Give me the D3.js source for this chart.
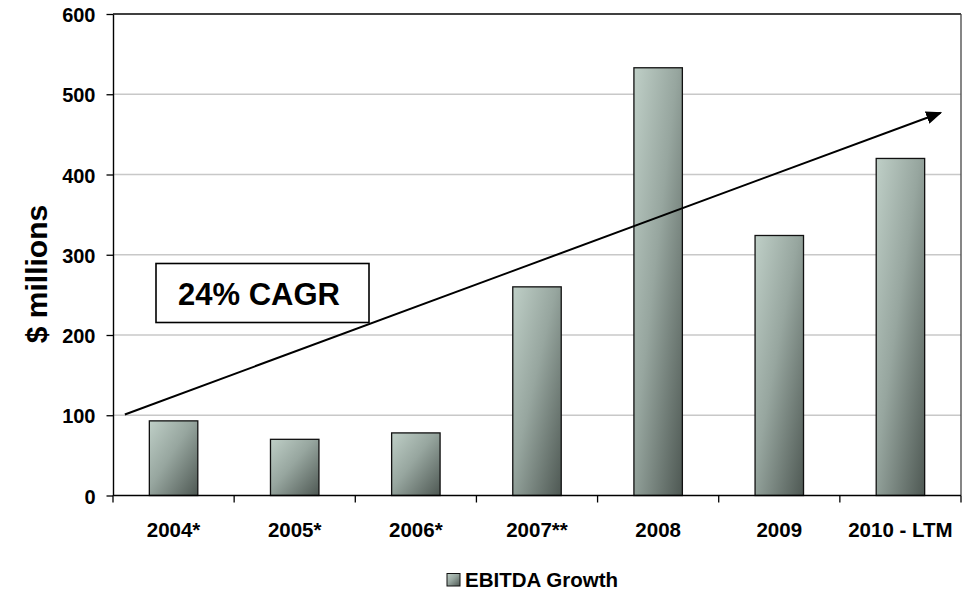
<!DOCTYPE html>
<html>
<head>
<meta charset="utf-8">
<script src="https://cdn.jsdelivr.net/npm/d3@7"></script>
<style>
  html, body { margin: 0; padding: 0; background: #fff; }
  svg { display: block; font-family: "Liberation Sans", Arial, Helvetica, sans-serif; }
</style>
</head>
<body>
<svg id="chart" width="974" height="592"></svg>
<script>
// EBITDA by year, $ millions
const categories = ["2004*", "2005*", "2006*", "2007**", "2008", "2009", "2010 - LTM"];
const ebitda = [93, 70, 78, 260, 533, 324, 420];
const yTicks = [0, 100, 200, 300, 400, 500, 600];
const seriesName = "EBITDA Growth";
const cagrLabel = "24% CAGR";
// Trend arrow endpoints: [fraction of plot width, value]
const trendStart = [0.014, 101];
const trendEnd = [0.976, 477];

const svg = d3.select("#chart");
const margin = { left: 113, right: 13, top: 14, bottom: 96.5 };
const W = 974, H = 592;
const iw = W - margin.left - margin.right;
const ih = H - margin.top - margin.bottom;

const x = d3.scaleBand().domain(categories).range([0, iw]).paddingInner(0.6).paddingOuter(0.3);
const xb = d3.scaleBand().domain(categories).range([0, iw]);
const y = d3.scaleLinear().domain([0, 600]).range([ih, 0]);

const defs = svg.append("defs");
const grad = defs.append("linearGradient").attr("id", "barGrad")
  .attr("x1", 0).attr("y1", 0).attr("x2", 1).attr("y2", 1);
grad.append("stop").attr("offset", "0%").attr("stop-color", "#bfcfc7");
grad.append("stop").attr("offset", "45%").attr("stop-color", "#97a69f");
grad.append("stop").attr("offset", "100%").attr("stop-color", "#4e5853");

const arrowM = defs.append("marker").attr("id", "arrowHead")
  .attr("viewBox", "0 0 10 10").attr("refX", 9).attr("refY", 5)
  .attr("markerWidth", 16).attr("markerHeight", 13).attr("markerUnits", "userSpaceOnUse")
  .attr("orient", "auto").attr("preserveAspectRatio", "none");
arrowM.append("path").attr("d", "M0,0 L10,5 L0,10 Z").attr("fill", "#000");

const g = svg.append("g").attr("transform", `translate(${margin.left},${margin.top})`);

// gridlines
g.append("g").selectAll("line").data(yTicks.filter(t => t > 0 && t < 600)).join("line")
  .attr("x1", 0).attr("x2", iw)
  .attr("y1", d => y(d)).attr("y2", d => y(d))
  .attr("stroke", "#c8c8c8").attr("stroke-width", 1.6);

// plot frame (top and right)
g.append("line").attr("x1", 0).attr("x2", iw).attr("y1", y(600)).attr("y2", y(600))
  .attr("stroke", "#000").attr("stroke-width", 1.3);
g.append("line").attr("x1", iw).attr("x2", iw).attr("y1", y(600)).attr("y2", y(0))
  .attr("stroke", "#444").attr("stroke-width", 1.3);

// bars
g.append("g").selectAll("rect").data(categories).join("rect")
  .attr("x", d => x(d))
  .attr("y", (d, i) => y(ebitda[i]))
  .attr("width", x.bandwidth())
  .attr("height", (d, i) => y(0) - y(ebitda[i]))
  .attr("fill", "url(#barGrad)")
  .attr("stroke", "#111").attr("stroke-width", 1.3);

// y axis
const yAxis = g.append("g").call(d3.axisLeft(y).tickValues(yTicks).tickSize(6.5).tickPadding(11).tickSizeOuter(0));
yAxis.select(".domain").attr("stroke", "#000").attr("stroke-width", 1.4);
yAxis.selectAll(".tick line").attr("stroke", "#000").attr("stroke-width", 1.3);
yAxis.selectAll("text").attr("font-size", 20).attr("font-weight", "bold").attr("fill", "#000")
  .attr("font-family", "Liberation Sans, Arial, sans-serif").attr("dy", "0.38em");

// x axis: baseline plus ticks at category boundaries
const xAxisG = g.append("g").attr("transform", `translate(0,${ih})`);
xAxisG.append("line").attr("x1", 0).attr("x2", iw).attr("stroke", "#000").attr("stroke-width", 1.4);
const bounds = categories.map(c => xb(c)).concat([iw]);
xAxisG.selectAll("line.tk").data(bounds).join("line").attr("class", "tk")
  .attr("x1", d => d).attr("x2", d => d).attr("y1", 0).attr("y2", 7)
  .attr("stroke", "#000").attr("stroke-width", 1.3);
xAxisG.selectAll("text").data(categories).join("text")
  .attr("x", d => xb(d) + xb.bandwidth() / 2).attr("y", 41.5)
  .attr("text-anchor", "middle").attr("font-size", 20.5).attr("font-weight", "bold")
  .text(d => d);

// trend arrow
g.append("line")
  .attr("x1", trendStart[0] * iw).attr("y1", y(trendStart[1]))
  .attr("x2", trendEnd[0] * iw).attr("y2", y(trendEnd[1]))
  .attr("stroke", "#000").attr("stroke-width", 2)
  .attr("marker-end", "url(#arrowHead)");

// CAGR box
const boxG = svg.append("g");
boxG.append("rect").attr("x", 156).attr("y", 263.5).attr("width", 213).attr("height", 59)
  .attr("fill", "#fff").attr("stroke", "#000").attr("stroke-width", 1.6);
boxG.append("text").attr("x", 259).attr("y", 304.5).attr("text-anchor", "middle")
  .attr("font-size", 31).attr("font-weight", "bold").text(cagrLabel);

// y axis title
svg.append("text").attr("transform", "translate(46.5,274) rotate(-90)")
  .attr("text-anchor", "middle").attr("font-size", 30).attr("font-weight", "bold")
  .text("$ millions");

// legend
const leg = svg.append("g").attr("transform", "translate(447,573.5)");
leg.append("rect").attr("x", 0).attr("y", 0).attr("width", 13).attr("height", 12.5)
  .attr("fill", "url(#barGrad)").attr("stroke", "#111").attr("stroke-width", 1);
leg.append("text").attr("x", 18).attr("y", 13.2).attr("font-size", 20.5).attr("font-weight", "bold")
  .text(seriesName);
</script>
</body>
</html>
